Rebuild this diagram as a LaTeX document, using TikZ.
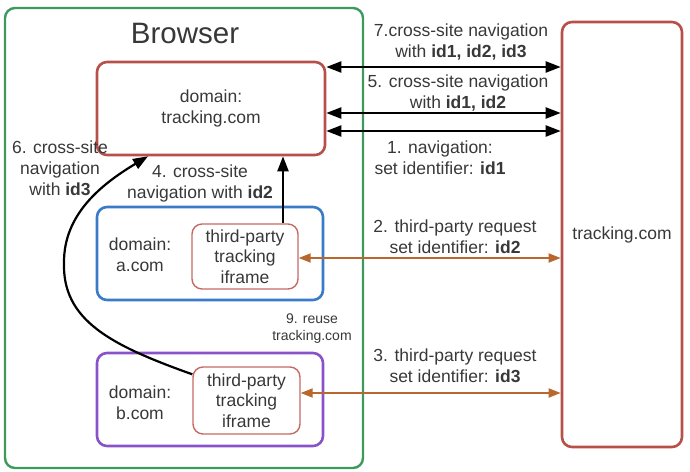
\documentclass[tikz,border=0pt]{standalone}
\usepackage{fontspec}
\setmainfont{Liberation Sans}
\usetikzlibrary{arrows.meta}

\definecolor{txt}{HTML}{383838}
\definecolor{brgreen}{HTML}{3E9A5C}
\definecolor{domred}{HTML}{B8504A}
\definecolor{framered}{HTML}{C46A62}
\definecolor{domblue}{HTML}{3A7BC8}
\definecolor{dompurple}{HTML}{8A52C8}
\definecolor{reqorange}{HTML}{B8682E}

\tikzset{
  box/.style={draw, rounded corners=10pt, line width=2.6pt, inner sep=0pt,
    text=txt, align=center, font=\fontsize{17.5}{20.5}\selectfont},
  frame/.style={draw=framered, rounded corners=10pt, line width=1.4pt, inner sep=0pt,
    text=txt, align=center, font=\fontsize{17.5}{20.5}\selectfont},
  lbl/.style={text=txt, align=center, inner sep=0pt, font=\fontsize{17.5}{21}\selectfont},
  small/.style={text=txt, align=center, inner sep=0pt, font=\fontsize{14}{17}\selectfont},
  nav/.style={black, line width=2.2pt, -{Triangle[length=15pt,width=11pt]}},
  navboth/.style={black, line width=2.2pt,
    {Triangle[length=15pt,width=11pt]}-{Triangle[length=15pt,width=11pt]}},
  req/.style={reqorange, line width=1.8pt,
    {Triangle[length=12pt,width=9pt]}-{Triangle[length=12pt,width=9pt]}},
}

\begin{document}
\begin{tikzpicture}[x=1pt, y=-1pt]
  \useasboundingbox (0,0) rectangle (690,471);

  % browser window and its title
  \node[box, draw=brgreen, line width=2.4pt, minimum width=358pt, minimum height=460pt] (browser) at (184,238) {};
  \node[lbl, font=\fontsize{29.5}{32}\selectfont] (title) at (185,33) {Browser};

  % first-party domains inside the browser
  \node[box, draw=domred, minimum width=228pt, minimum height=93pt] (tdom) at (211,108.5) {domain:\\tracking.com};
  \node[box, draw=domblue, minimum width=226pt, minimum height=93pt] (adom) at (210,253.5) {};
  \node[box, draw=dompurple, minimum width=226pt, minimum height=93pt] (bdom) at (210,399.5) {};
  \node[lbl] (alabel) at (140,255) {domain:\\a.com};
  \node[lbl] (blabel) at (140,403) {domain:\\b.com};

  % embedded tracker iframes
  \node[frame, minimum width=106pt, minimum height=65pt] (ifa) at (245,256.5) {third-party\\tracking\\iframe};
  \node[frame, minimum width=107pt, minimum height=67pt] (ifb) at (246.5,400.5) {third-party\\tracking\\iframe};

  % tracker server
  \node[box, draw=domred, minimum width=120pt, minimum height=425pt] (trk) at (622,234.5) {tracking.com};

  % navigations between the tracker domain and the server
  \draw[navboth] ([yshift=41.5pt]tdom.east) -- ([yshift=41.5pt]tdom.east -| trk.west);
  \draw[navboth] ([yshift=-4.5pt]tdom.east) -- ([yshift=-4.5pt]tdom.east -| trk.west);
  \draw[navboth] ([yshift=-22.5pt]tdom.east) -- ([yshift=-22.5pt]tdom.east -| trk.west);

  % third-party requests from the iframes
  \draw[req] ([yshift=-1.5pt]ifa.east) -- ([yshift=-1.5pt]ifa.east -| trk.west);
  \draw[req] ([yshift=7.5pt]ifb.east) -- ([yshift=7.5pt]ifb.east -| trk.west);

  % cross-site navigations from the iframes
  \draw[nav] ([xshift=38pt]ifa.north) -- ([xshift=38pt]ifa.north |- tdom.south);
  \draw[nav] ([yshift=-8pt]ifb.north west)
    .. controls (110,345) and (62,320) .. (64,262)
    .. controls (64,215) and (100,185) .. ([xshift=-63pt]tdom.south);

  % step labels
  \node[lbl] (l7) at (461,42) {7.cross-site navigation\\with \textbf{id1, id2, id3}};
  \node[lbl] (l5) at (458,93) {5. cross-site navigation\\with \textbf{id1, id2}};
  \node[lbl] (l1) at (440,158) {1. navigation:\\set identifier: \textbf{id1}};
  \node[lbl] (l2) at (455,236.5) {2. third-party request\\set identifier: \textbf{id2}};
  \node[lbl] (l3) at (455,366) {3. third-party request\\set identifier: \textbf{id3}};
  \node[lbl] (l4) at (200,183) {4. cross-site\\navigation with \textbf{id2}};
  \node[lbl] (l6) at (60,168) {6. cross-site\\navigation\\with \textbf{id3}};
  \node[small] (l9) at (312,329) {9. reuse\\tracking.com};
\end{tikzpicture}
\end{document}
